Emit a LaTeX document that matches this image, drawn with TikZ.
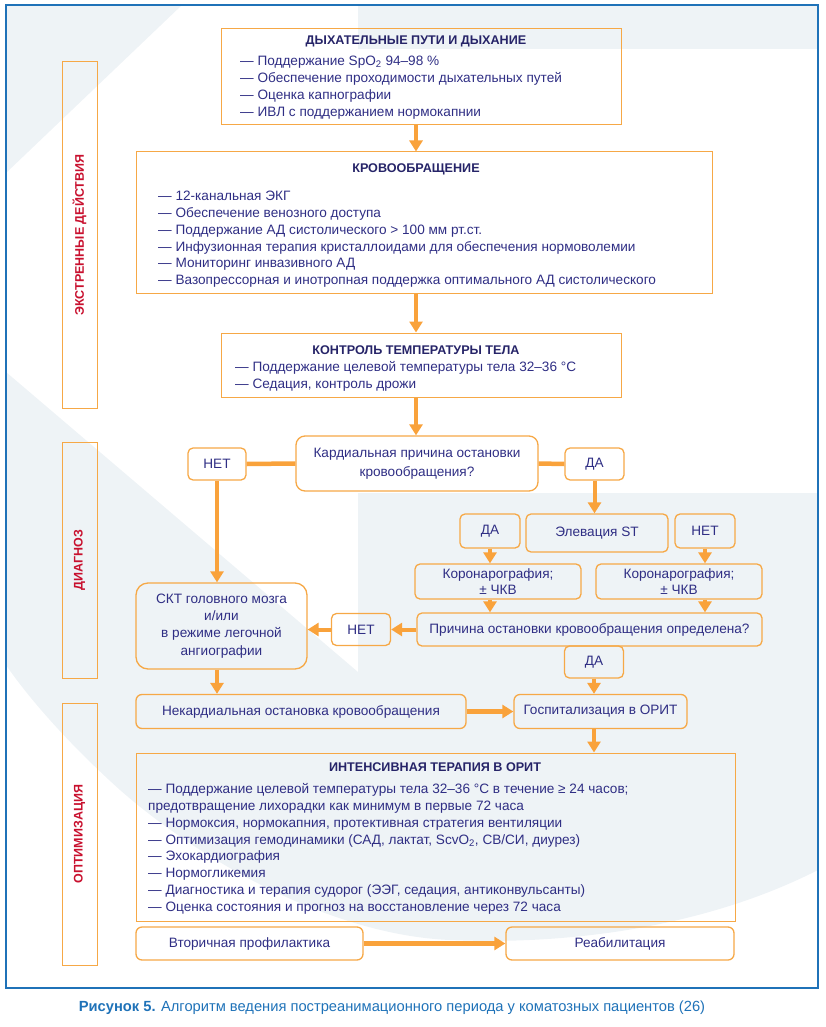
\documentclass[tikz,border=0pt]{standalone}
\usepackage{fontspec}
\setmainfont{Liberation Sans}
\usetikzlibrary{arrows.meta}
\definecolor{boxorange}{HTML}{F6A846}
\definecolor{arroworange}{HTML}{F9A23B}
\definecolor{textblue}{HTML}{2F2E84}
\definecolor{titleblue}{HTML}{262468}
\definecolor{sidered}{HTML}{C8102E}
\definecolor{frameblue}{HTML}{1F72B8}
\definecolor{wmgrey}{HTML}{EEF3F6}
\newcommand{\bodyfont}{\fontsize{13.6}{17}\selectfont}
\tikzset{
	infobox/.style={draw=boxorange, line width=1pt, inner sep=0pt},
	roundbox/.style={draw=boxorange, line width=1.3pt, rounded corners=6pt, inner sep=0pt,
		align=center, text=textblue, font=\bodyfont},
	sidebox/.style={draw=boxorange, line width=1pt, inner sep=0pt, rotate=90,
		text=sidered, font=\fontsize{12.5}{14}\selectfont\bfseries},
	boxtitle/.style={inner sep=0pt, text=titleblue, font=\fontsize{12.6}{15}\selectfont\bfseries},
	itemline/.style={anchor=west, inner sep=0pt, text height=9.7pt, text depth=0pt,
		text=textblue, font=\bodyfont},
	flowarrow/.style={draw=arroworange, line width=4pt, -{Triangle[width=13pt,length=11pt]}},
	flowline/.style={draw=arroworange, line width=4.5pt}
}
\begin{document}
\begin{tikzpicture}[x=1pt, y=-1pt]
	\useasboundingbox (0,0) rectangle (826,1027);
			%   %   %   %   %   %   %   %   %   %   %
			%   Watermark
				\fill[wmgrey] (6,5) -- (182,5) -- (6,173) -- cycle;
				\fill[wmgrey] (358,5) rectangle (818,49);
				\fill[wmgrey] (6,372) -- (358,672) -- (358,493) -- (818,493) -- (818,870)
					.. controls (700,930) and (560,945) .. (450,940)
					.. controls (330,935) and (200,860) .. (120,790)
					.. controls (70,745) and (30,700) .. (6,665) -- cycle;
			%   %   %   %   %   %   %   %   %   %   %
			%   Frame and caption
				\draw[frameblue, line width=1.3pt] (6,5) rectangle (818,988);
				\node[text=frameblue, font=\fontsize{14.7}{16}\selectfont, inner sep=0pt] (caption) at (392,1008)
				{\textbf{Рисунок 5.} Алгоритм ведения постреанимационного периода у коматозных пациентов (26)};
			%   %   %   %   %   %   %   %   %   %   %
			%   Phases
				\node[sidebox, minimum width=346, minimum height=35] (emerg) at (79.5,235) {ЭКСТРЕННЫЕ ДЕЙСТВИЯ};
				\node[sidebox, minimum width=236, minimum height=35] (diag) at (79.5,560) {ДИАГНОЗ};
				\node[sidebox, minimum width=262, minimum height=35] (optim) at (79.5,834) {ОПТИМИЗАЦИЯ};
				\coordinate (axis) at (416,0);
			%   %   %   %   %   %   %   %   %   %   %
			%   Airway
				\node[infobox, minimum width=400, minimum height=96] (airway) at (421,77) {};
				\node[boxtitle] (airwaytitle) at (416,41) {ДЫХАТЕЛЬНЫЕ ПУТИ И ДЫХАНИЕ};
				\node[itemline] (air1) at (240,60.5) {— Поддержание SpO\textsubscript{2} 94–98 \%};
				\node[itemline] (air2) at (240,77.5) {— Обеспечение проходимости дыхательных путей};
				\node[itemline] (air3) at (240,94.5) {— Оценка капнографии};
				\node[itemline] (air4) at (240,111.5) {— ИВЛ с поддержанием нормокапнии};
			%   %   %   %   %   %   %   %   %   %   %
			%   Circulation
				\node[infobox, minimum width=576, minimum height=141] (circ) at (424,222.5) {};
				\node[boxtitle] (circtitle) at (416,169) {КРОВООБРАЩЕНИЕ};
				\node[itemline] (circ1) at (158,196) {— 12-канальная ЭКГ};
				\node[itemline] (circ2) at (158,213) {— Обеспечение венозного доступа};
				\node[itemline] (circ3) at (158,229.5) {— Поддержание АД систолического > 100 мм рт.ст.};
				\node[itemline] (circ4) at (158,246.5) {— Инфузионная терапия кристаллоидами для обеспечения нормоволемии};
				\node[itemline] (circ5) at (158,263) {— Мониторинг инвазивного АД};
				\node[itemline] (circ6) at (158,280) {— Вазопрессорная и инотропная поддержка оптимального АД систолического};
			%   %   %   %   %   %   %   %   %   %   %
			%   Temperature
				\node[infobox, minimum width=400, minimum height=64] (temp) at (421,365) {};
				\node[boxtitle] (temptitle) at (416,350) {КОНТРОЛЬ ТЕМПЕРАТУРЫ ТЕЛА};
				\node[itemline] (temp1) at (235,367) {— Поддержание целевой температуры тела 32–36 °C};
				\node[itemline] (temp2) at (235,384) {— Седация, контроль дрожи};
			%   %   %   %   %   %   %   %   %   %   %
			%   Cardiac cause?
				\node[roundbox, rounded corners=9pt, minimum width=242, minimum height=55,
					font=\fontsize{13.6}{19}\selectfont] (cause) at (417,463.5)
				{Кардиальная причина остановки\\кровообращения?};
				\node[roundbox, rounded corners=5pt, minimum width=58, minimum height=32] (noA) at (217,464) {НЕТ};
				\node[roundbox, rounded corners=5pt, minimum width=59, minimum height=32] (yesA) at (594.5,464) {ДА};
			%   %   %   %   %   %   %   %   %   %   %
			%   ST elevation
				\node[roundbox, rounded corners=5pt, minimum width=60, minimum height=34] (yesB) at (490,531) {ДА};
				\node[roundbox, rounded corners=5pt, minimum width=142, minimum height=38] (stel) at (597,533) {Элевация ST};
				\node[roundbox, rounded corners=5pt, minimum width=60, minimum height=34] (noB) at (705,531) {НЕТ};
				\node[roundbox, rounded corners=5pt, minimum width=166, minimum height=35,
					font=\fontsize{13.6}{16}\selectfont] (cor1) at (498,581.5) {Коронарография;\\± ЧКВ};
				\node[roundbox, rounded corners=5pt, minimum width=166, minimum height=35,
					font=\fontsize{13.6}{16}\selectfont] (cor2) at (679,581.5) {Коронарография;\\± ЧКВ};
			%   %   %   %   %   %   %   %   %   %   %
			%   Cause found?
				\node[roundbox, rounded corners=5pt, minimum width=345, minimum height=33] (found) at (589.5,629.5)
				{Причина остановки кровообращения определена?};
				\node[roundbox, rounded corners=5pt, minimum width=59, minimum height=32] (noC) at (361,629.5) {НЕТ};
				\node[roundbox, rounded corners=5pt, minimum width=59, minimum height=32] (yesC) at (594,662) {ДА};
				\node[roundbox, rounded corners=12pt, minimum width=171, minimum height=86,
					font=\fontsize{13.6}{17.3}\selectfont] (skt) at (221.5,626)
				{СКТ головного мозга\\и/или\\в режиме легочной\\ангиографии};
			%   %   %   %   %   %   %   %   %   %   %
			%   Admission
				\node[roundbox, minimum width=330, minimum height=34] (nocard) at (301,711.5)
				{Некардиальная остановка кровообращения};
				\node[roundbox, minimum width=173, minimum height=34] (hosp) at (600.5,711.5)
				{Госпитализация в ОРИТ};
			%   %   %   %   %   %   %   %   %   %   %
			%   Intensive care
				\node[infobox, minimum width=599, minimum height=168] (icu) at (435.5,837) {};
				\node[boxtitle] (icutitle) at (435,767) {ИНТЕНСИВНАЯ ТЕРАПИЯ В ОРИТ};
				\node[itemline] (icu1) at (148,789) {— Поддержание целевой температуры тела 32–36 °C в течение ≥ 24 часов;};
				\node[itemline] (icu2) at (148,806) {предотвращение лихорадки как минимум в первые 72 часа};
				\node[itemline] (icu3) at (148,823) {— Нормоксия, нормокапния, протективная стратегия вентиляции};
				\node[itemline] (icu4) at (148,839.5) {— Оптимизация гемодинамики (САД, лактат, ScvO\textsubscript{2}, СВ/СИ, диурез)};
				\node[itemline] (icu5) at (148,856) {— Эхокардиография};
				\node[itemline] (icu6) at (148,873) {— Нормогликемия};
				\node[itemline] (icu7) at (148,890) {— Диагностика и терапия судорог (ЭЭГ, седация, антиконвульсанты)};
				\node[itemline] (icu8) at (148,907) {— Оценка состояния и прогноз на восстановление через 72 часа};
			%   %   %   %   %   %   %   %   %   %   %
			%   Follow-up
				\node[roundbox, minimum width=227, minimum height=33] (sec) at (249.5,943.5) {Вторичная профилактика};
				\node[roundbox, minimum width=228, minimum height=33] (reha) at (620,943.5) {Реабилитация};
			%   %   %   %   %   %   %   %   %   %   %
			%   Connectors
				\draw[flowarrow] (airway.south -| axis) -- (circ.north -| axis);
				\draw[flowarrow] (circ.south -| axis) -- (temp.north -| axis);
				\draw[flowarrow] (temp.south -| axis) -- (cause.north -| axis);
				\draw[flowline] (cause.west) -- (noA.east);
				\draw[flowline] (cause.east) -- (yesA.west);
				\draw[flowarrow] (noA.south) -- (noA.south |- skt.north);
				\draw[flowarrow] (yesA.south) -- (yesA.south |- stel.north);
				\draw[flowarrow] (yesB.south) -- (yesB.south |- cor1.north);
				\draw[flowarrow] (noB.south) -- (noB.south |- cor2.north);
				\draw[flowarrow] (cor1.south -| yesB) -- (yesB |- found.north);
				\draw[flowarrow] (cor2.south -| noB) -- (noB |- found.north);
				\draw[flowarrow] (found.west) -- (noC.east);
				\draw[flowarrow] (noC.west) -- (noC.west -| skt.east);
				\draw[flowarrow] (yesC.south) -- (yesC.south |- hosp.north);
				\draw[flowarrow] (skt.south -| noA) -- (noA |- nocard.north);
				\draw[flowarrow, line width=5pt] (nocard.east) -- (hosp.west);
				\draw[flowarrow] (hosp.south -| yesC) -- (yesC |- icu.north);
				\draw[flowarrow, line width=5pt] (sec.east) -- (reha.west);
\end{tikzpicture}
\end{document}
